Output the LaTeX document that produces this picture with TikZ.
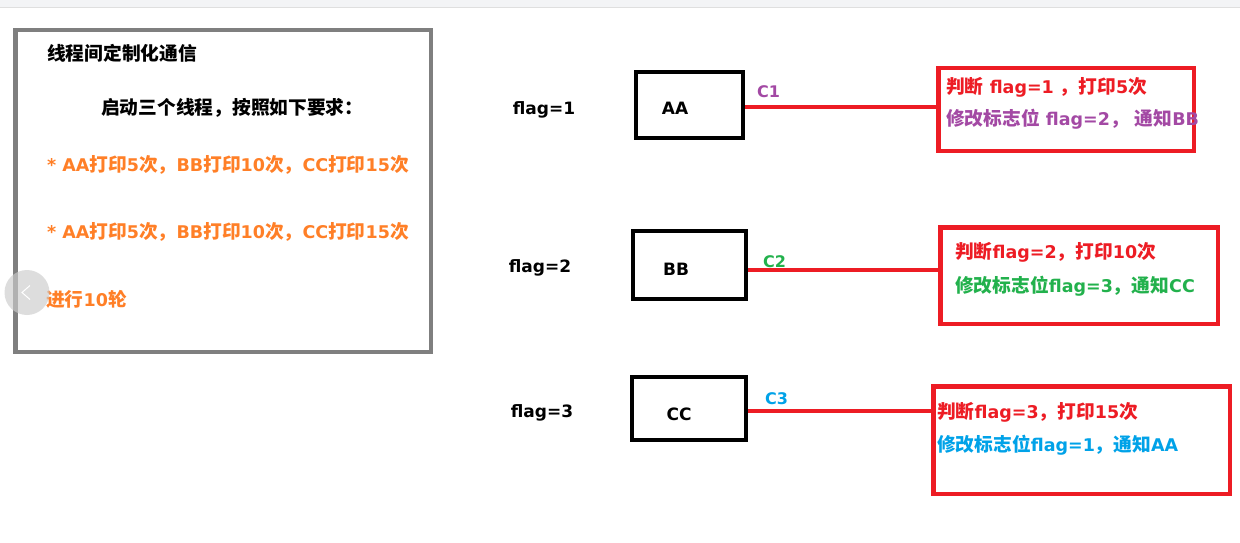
\documentclass[tikz,border=0pt]{standalone}
\usepackage{fontspec}
\setmainfont{DejaVu Sans}
\newfontfamily\cjkfont{Noto Sans CJK SC}[Scale=1.07]
\newcommand\zh[1]{{\cjkfont #1}}
\definecolor{pred}{HTML}{ED1C24}
\definecolor{porange}{HTML}{FF7F27}
\definecolor{ppurple}{HTML}{A349A4}
\definecolor{pgreen}{HTML}{22B14C}
\definecolor{pblue}{HTML}{00A2E8}
\definecolor{pgray}{HTML}{7F7F7F}
\definecolor{topbar}{HTML}{F3F4F6}
\begin{document}
\begin{tikzpicture}[x=1pt,y=-1pt,
  txt/.style={inner sep=0, anchor=west, font=\bfseries\fontsize{17.5}{20}\selectfont},
  flagtxt/.style={inner sep=0, font=\bfseries\fontsize{17}{19}\selectfont},
  clbl/.style={inner sep=0, anchor=west, font=\bfseries\fontsize{16}{18}\selectfont},
  blk/.style={draw=black, line width=4pt, inner sep=0},
  redbox/.style={draw=pred, line width=4.5pt, inner sep=0},
  redline/.style={draw=pred, line width=3.5pt},
  frame/.style={draw=pgray, line width=4.5pt, inner sep=0}]
\useasboundingbox (0,0) rectangle (1240,543);
\fill[white] (0,0) rectangle (1240,543);
\fill[topbar] (0,0) rectangle (1240,7);
\draw[gray!25, line width=0.5pt] (0,7) -- (1240,7);

% left frame
\node[frame, minimum width=415.5, minimum height=321.5] (lf) at (223,191) {};
\node[txt] (t1) at (47,53.5) {\zh{线程间定制化通信}};
\node[txt] (t2) at (101,108) {\zh{启动三个线程，按照如下要求：}};
\node[txt, text=porange] (t3) at (47,164.5) {* AA\zh{打印}5\zh{次，}BB\zh{打印}10\zh{次，}CC\zh{打印}15\zh{次}};
\node[txt, text=porange] (t4) at (47,232) {* AA\zh{打印}5\zh{次，}BB\zh{打印}10\zh{次，}CC\zh{打印}15\zh{次}};
\node[txt, text=porange] (t5) at (46,299.5) {\zh{进行}10\zh{轮}};

% carousel button overlay
\node[circle, fill=gray!40, fill opacity=0.65, minimum size=45, inner sep=0] (btn) at (27,292.5) {};
\draw[white, line width=1pt] ([shift={(3,-7)}]btn.center) -- ([shift={(-5,0)}]btn.center) -- ([shift={(3,7)}]btn.center);

% flag labels
\node[flagtxt] (f1) at (544,110) {flag=1};
\node[flagtxt] (f2) at (540,268) {flag=2};
\node[flagtxt] (f3) at (542,413) {flag=3};

% thread boxes
\node[blk, minimum width=107, minimum height=66] (aa) at (689.5,105) {};
\node[blk, minimum width=113, minimum height=68] (bb) at (689.5,265) {};
\node[blk, minimum width=114, minimum height=63] (cc) at (689,408.5) {};
\node[flagtxt] (aat) at (675,108) {AA};
\node[flagtxt] (bbt) at (676,269) {BB};
\node[flagtxt] (cct) at (679,414) {CC};

% red boxes
\node[redbox, minimum width=255.5, minimum height=82.5] (r1) at (1066,109.5) {};
\node[redbox, minimum width=277.5, minimum height=96.5] (r2) at (1079,275.5) {};
\node[redbox, minimum width=296.5, minimum height=107.5] (r3) at (1081.5,440) {};

% condition labels
\node[clbl, text=ppurple] (c1) at (757,92) {C1};
\node[clbl, text=pgreen] (c2) at (763,262) {C2};
\node[clbl, text=pblue] (c3) at (765,399) {C3};

% connectors
\draw[redline] ([yshift=-2pt]aa.east) -- ([yshift=-2pt]aa.east -| r1.west);
\draw[redline] ([yshift=-5pt]bb.east) -- ([yshift=-5pt]bb.east -| r2.west);
\draw[redline] ([yshift=-2.5pt]cc.east) -- ([yshift=-2.5pt]cc.east -| r3.west);

% box texts
\node[txt, text=pred] (r1a) at (946,87.5) {\zh{判断} flag=1 \zh{，打印}5\zh{次}};
\node[txt, text=ppurple] (r1b) at (946,119.5) {\zh{修改标志位} flag=2\zh{，} \zh{通知}BB};
\node[txt, text=pred] (r2a) at (955,252.5) {\zh{判断}flag=2\zh{，打印}10\zh{次}};
\node[txt, text=pgreen] (r2b) at (955,286.5) {\zh{修改标志位}flag=3\zh{，通知}CC};
\node[txt, text=pred] (r3a) at (937,412.5) {\zh{判断}flag=3\zh{，打印}15\zh{次}};
\node[txt, text=pblue] (r3b) at (937,445.5) {\zh{修改标志位}flag=1\zh{，通知}AA};
\end{tikzpicture}
\end{document}
